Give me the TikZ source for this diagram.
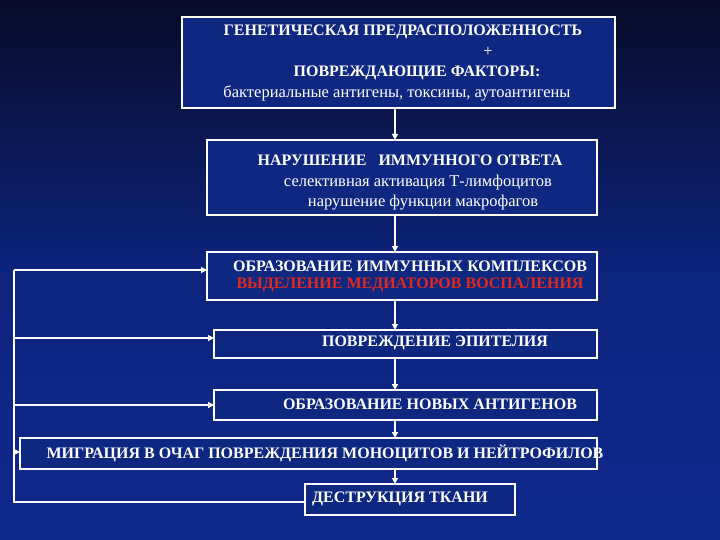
\documentclass[tikz,border=0pt]{standalone}
\usepackage{fontspec}
\setmainfont{Liberation Serif}
\usetikzlibrary{arrows.meta}
\definecolor{bgtop}{RGB}{8,12,40}
\definecolor{bgbot}{RGB}{14,40,140}
\definecolor{boxfill}{RGB}{14,40,130}
\definecolor{redtxt}{RGB}{225,40,30}
\begin{document}
\begin{tikzpicture}[x=1pt,y=-1pt,
  box/.style={draw=white,line width=1.6pt,fill=boxfill},
  txt/.style={text=white,font=\fontsize{16}{18}\selectfont\bfseries,inner sep=0pt},
  stxt/.style={text=white,font=\fontsize{16.5}{18}\selectfont,inner sep=0pt},
  con/.style={draw=white,line width=1.2pt},
  arr/.style={con,-{Triangle[length=6pt,width=6pt]}}]
\useasboundingbox (0,0) rectangle (720,540);
\shade[top color=bgtop,bottom color=bgbot,middle color=bgbot!85!bgtop] (0,0) rectangle (720,540);
\draw[box] (182,17) rectangle (615,108);
\coordinate (b1s) at (395,108);
\draw[box] (207,140) rectangle (597,215);
\coordinate (b2n) at (395,140); \coordinate (b2s) at (395,215);
\draw[box] (207,252) rectangle (597,300);
\coordinate (b3n) at (395,252); \coordinate (b3s) at (395,300); \coordinate (b3w) at (207,270);
\draw[box] (214,330) rectangle (597,358);
\coordinate (b4n) at (395,330); \coordinate (b4s) at (395,358); \coordinate (b4w) at (214,338);
\draw[box] (214,390) rectangle (597,420);
\coordinate (b5n) at (395,390); \coordinate (b5s) at (395,420); \coordinate (b5w) at (214,405);
\draw[box] (20,438) rectangle (597,469);
\coordinate (b6n) at (395,438); \coordinate (b6s) at (395,469); \coordinate (b6w) at (20,452);
\draw[box] (305,484) rectangle (515,515);
\coordinate (b7n) at (395,484); \coordinate (b7w) at (305,502);
\node[txt] (t1) at (403,32) {ГЕНЕТИЧЕСКАЯ ПРЕДРАСПОЛОЖЕННОСТЬ};
\node[stxt] (t2) at (488,52) {+};
\node[txt] (t3) at (417,73) {ПОВРЕЖДАЮЩИЕ ФАКТОРЫ:};
\node[stxt] (t4) at (397,93) {бактериальные антигены, токсины, аутоантигены};
\node[txt] (t5) at (410,160) {НАРУШЕНИЕ \ \ ИММУННОГО ОТВЕТА};
\node[stxt] (t6) at (418,183) {селективная активация Т-лимфоцитов};
\node[stxt] (t7) at (423,203) {нарушение функции макрофагов};
\node[txt] (t8) at (410,266) {ОБРАЗОВАНИЕ ИММУННЫХ КОМПЛЕКСОВ};
\node[txt,text=redtxt] (t9) at (410,285) {ВЫДЕЛЕНИЕ МЕДИАТОРОВ ВОСПАЛЕНИЯ};
\node[txt] (t10) at (435,343) {ПОВРЕЖДЕНИЕ ЭПИТЕЛИЯ};
\node[txt] (t11) at (430,404) {ОБРАЗОВАНИЕ НОВЫХ АНТИГЕНОВ};
\node[txt] (t12) at (325,453) {МИГРАЦИЯ В ОЧАГ ПОВРЕЖДЕНИЯ МОНОЦИТОВ И НЕЙТРОФИЛОВ};
\node[txt] (t13) at (400,499) {ДЕСТРУКЦИЯ ТКАНИ};
\draw[arr] (b1s) -- (b2n);
\draw[arr] (b2s) -- (b3n);
\draw[arr] (b3s) -- (b4n);
\draw[arr] (b4s) -- (b5n);
\draw[arr] (b5s) -- (b6n);
\draw[arr] (b6s) -- (b7n);
\coordinate (l1) at (14,270); \coordinate (l2) at (14,338);
\coordinate (l3) at (14,405); \coordinate (l4) at (14,452); \coordinate (l5) at (14,502);
\draw[con] (l1) -- (l5) -- (b7w);
\draw[arr] (l1) -- (b3w);
\draw[arr] (l2) -- (b4w);
\draw[arr] (l3) -- (b5w);
\draw[arr] (l4) -- (b6w);
\end{tikzpicture}
\end{document}
